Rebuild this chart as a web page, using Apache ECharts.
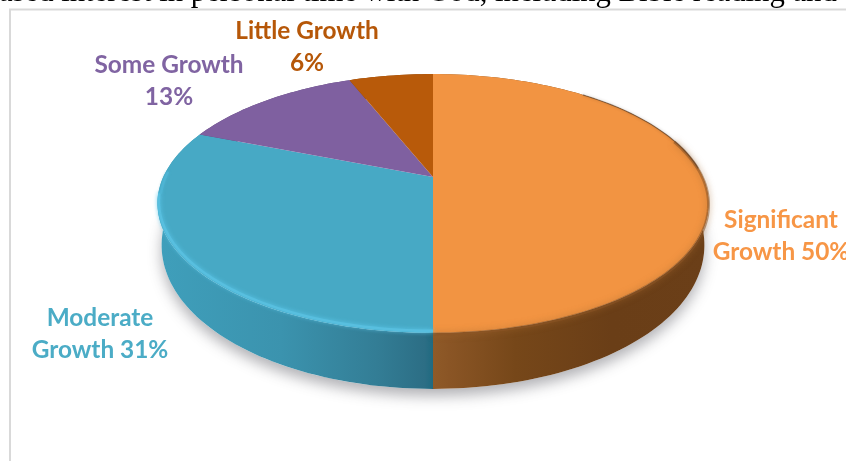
<!DOCTYPE html>
<html><head><meta charset="utf-8">
<style>html,body{margin:0;padding:0;background:#fff}#c{width:846px;height:461px}</style>
<script src="https://cdn.jsdelivr.net/npm/echarts@6/dist/echarts.min.js"></script></head>
<body><div id="c"></div>
<script>
const categories = ['Significant Growth', 'Moderate Growth', 'Some Growth', 'Little Growth'];
const values = [50, 31, 13, 6];
const labelLines = [['Significant', 'Growth 50%'], ['Moderate', 'Growth 31%'], ['Some Growth', '13%'], ['Little Growth', '6%']];
const heading = 'ased interest in personal time with God, including Bible reading and';

const topColors = ['#f29442', '#47a9c5', '#7f60a0', '#b85a0a'];
const textColors = ['#f79646', '#4bacc6', '#8064a2', '#b65708'];
const labelAnchors = [[781, 236], [100, 334], [169, 81], [307, 47]];

// perspective disc projection
const CX = 433, CY = 177, A = 269.7, B = 124, K = 0.2046;
function proj(deg, scale) {
  const r = deg * Math.PI / 180, xc = Math.sin(r), yc = -Math.cos(r), w = 1 - K * yc;
  return [CX + (scale || 1) * A * xc / w, CY + B * yc / w];
}
// lower rim of the disc: slightly narrower, dropped more at the front than at the sides
function projBottom(deg) {
  const p = proj(deg, 0.985), yc = -Math.cos(deg * Math.PI / 180);
  return [p[0], p[1] + 38 + 18 * yc];
}
const total = values.reduce((a, b) => a + b, 0);
function startOf(i) { let s = 0; for (let j = 0; j < i; j++) s += values[j]; return s / total * 360; }
function arcWith(fn, a0, a1, extra) {
  const n = Math.max(2, Math.ceil(Math.abs(a1 - a0) / 1.5)), out = [];
  for (let i = 0; i <= n; i++) out.push(fn(a0 + (a1 - a0) * i / n, extra));
  return out;
}
const arc = (a0, a1, scale) => arcWith(proj, a0, a1, scale);
const arcBottom = (a0, a1) => arcWith(projBottom, a0, a1);
function rimArc(a0, a1, dy, scale) {
  return arc(a0, a1, scale).map(p => [p[0], p[1] + dy]);
}
function grad(x0, x1, stops) {
  return { type: 'linear', x: x0, y: 0, x2: x1, y2: 0, global: true,
    colorStops: stops.map(s => ({ offset: s[0], color: s[1] })) };
}
const wallFills = [
  grad(433, 708, [[0, '#8f5a28'], [0.06, '#8a5525'], [0.3, '#764719'], [0.65, '#6a3e17'], [1, '#6b3f18']]),
  grad(157, 433, [[0, '#3f9fbb'], [0.45, '#3b93ae'], [0.8, '#337d95'], [0.97, '#2c6e85'], [1, '#1f6a80']]),
  '#5d4678', '#84420a'
];
function sliceAngles(params, api) {
  const a0 = startOf(params.dataIndex);
  return [a0, a0 + api.value(0) / total * 360];
}
const data = values.map((v, i) => ({ name: categories[i], value: v }));

const option = {
  animation: false,
  backgroundColor: '#fff',
  graphic: [
    { type: 'text', silent: true, z: 1, x: -1, y: -23,
      style: { text: heading, font: '30.7px "Liberation Serif"', fill: '#000' } },
    { type: 'rect', silent: true, z: 2, shape: { x: 10, y: 9.5, width: 850, height: 460 },
      style: { fill: '#fff', stroke: '#d9d9d9', lineWidth: 2 } }
  ],
  series: [
    { // ground shadow
      type: 'custom', coordinateSystem: 'none', silent: true, z: 3, data: [total],
      renderItem() {
        return { type: 'polygon', shape: { points: arcBottom(0, 360) },
          style: { fill: '#fff', shadowBlur: 14, shadowOffsetY: 7, shadowColor: 'rgba(60,60,70,0.4)' } };
      }
    },
    { // side walls
      type: 'custom', coordinateSystem: 'none', silent: true, z: 4, data,
      renderItem(params, api) {
        const [a0, a1] = sliceAngles(params, api);
        return { type: 'polygon',
          shape: { points: arc(a0, a1).concat(arcBottom(a1, a0)) },
          style: { fill: wallFills[params.dataIndex] } };
      }
    },
    { // top face
      type: 'custom', coordinateSystem: 'none', silent: true, z: 5, data,
      renderItem(params, api) {
        const [a0, a1] = sliceAngles(params, api);
        return { type: 'polygon',
          shape: { points: [[CX, CY]].concat(arc(a0, a1)) },
          style: { fill: topColors[params.dataIndex] } };
      }
    },
    { // bevelled rim highlights
      type: 'custom', coordinateSystem: 'none', silent: true, z: 6, data: values.slice(0, 2),
      renderItem(params, api) {
        const [a0, a1] = sliceAngles(params, api);
        if (params.dataIndex === 0) {
          return { type: 'group', children: [
            { type: 'polyline', shape: { points: rimArc(72, a1, 1, 1) },
              style: { fill: 'none', stroke: 'rgba(140,85,38,0.55)', lineWidth: 3, shadowBlur: 6, shadowColor: '#a66a30' } },
            { type: 'polyline', shape: { points: rimArc(40, 86, 0, 1) },
              style: { fill: 'none', stroke: 'rgba(80,55,35,0.55)', lineWidth: 1.2, shadowBlur: 3, shadowColor: 'rgba(70,45,25,0.5)' } }
          ] };
        }
        return { type: 'group', children: [
          { type: 'polyline', shape: { points: rimArc(a0, a0 + 82, -2, 0.995) },
            style: { fill: 'none', stroke: '#58bfdf', lineWidth: 2.6, shadowBlur: 4, shadowColor: '#5bc7ea' } },
          { type: 'polyline', shape: { points: rimArc(a0 + 82, a0 + 92, -1, 0.99) },
            style: { fill: 'none', stroke: 'rgba(79,181,213,0.8)', lineWidth: 2.6, shadowBlur: 3, shadowColor: '#4fb5d5' } }
        ] };
      }
    },
    { // labels
      type: 'custom', coordinateSystem: 'none', silent: true, z: 7, data,
      renderItem(params) {
        const i = params.dataIndex;
        return { type: 'text', x: labelAnchors[i][0], y: labelAnchors[i][1],
          style: { text: labelLines[i].join('\n'), font: 'bold 24.4px Lato', lineHeight: 32,
            fill: textColors[i], align: 'center', verticalAlign: 'middle' } };
      }
    }
  ]
};
echarts.init(document.getElementById('c'), null, { renderer: 'canvas' }).setOption(option);
</script></body></html>
